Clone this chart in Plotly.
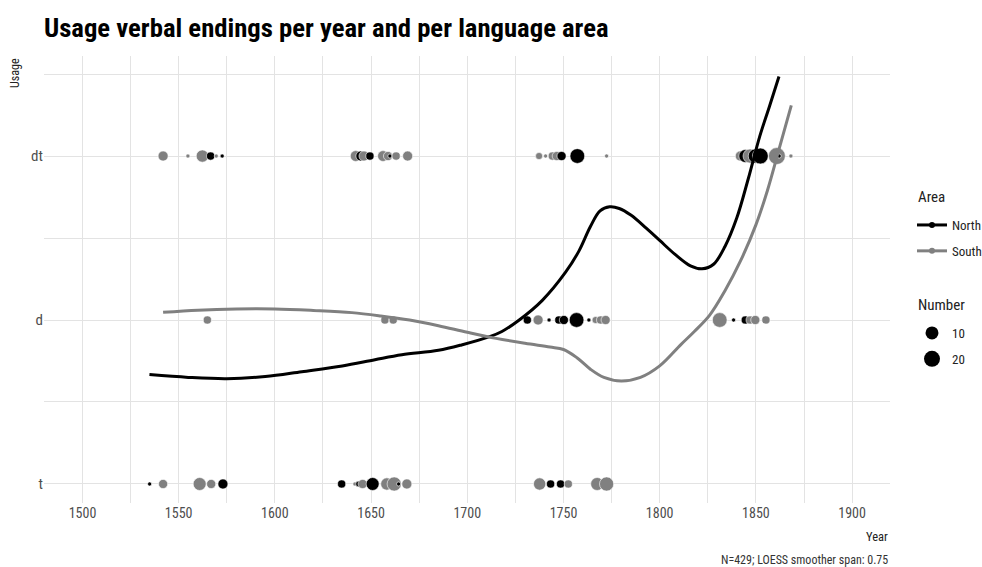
import numpy as np
import plotly.graph_objects as go

# ---- data ----
usage_levels = ["t", "d", "dt"]
year_ticks = [1500, 1550, 1600, 1650, 1700, 1750, 1800, 1850, 1900]

pt_year = [1541.9, 1554.8, 1562.3, 1566.6, 1569.5, 1572.6, 1642.0, 1644.7, 1646.3, 1649.4,
           1656.2, 1658.8, 1659.8, 1663.0, 1669.0, 1737.3, 1740.7, 1744.2, 1746.5, 1749.0,
           1757.2, 1772.4, 1841.9, 1844.5, 1847.0, 1849.7, 1852.3, 1860.9, 1862.1, 1868.2,
           1564.9, 1657.2, 1661.5, 1731.2, 1736.8, 1742.5, 1747.6, 1750.2, 1756.8, 1763.2,
           1766.7, 1769.3, 1771.9, 1831.2, 1838.4, 1844.5, 1847.0, 1849.7, 1855.2,
           1534.9, 1541.9, 1560.9, 1566.9, 1573.0, 1634.7, 1641.6, 1643.5, 1645.6, 1650.8,
           1658.2, 1662.0, 1664.3, 1668.6, 1737.6, 1743.3, 1748.5, 1752.5, 1767.5, 1772.4]
pt_usage = ["dt"] * 30 + ["d"] * 19 + ["t"] * 20
pt_area = ["S", "S", "S", "N", "S", "N", "S", "N", "S", "N",
           "S", "S", "N", "S", "S", "S", "S", "S", "S", "N",
           "N", "S", "S", "N", "S", "N", "N", "S", "N", "S",
           "S", "S", "S", "N", "S", "N", "N", "N", "N", "N",
           "S", "S", "S", "S", "N", "N", "S", "S", "S",
           "N", "S", "S", "S", "N", "N", "S", "N", "S", "N",
           "S", "S", "N", "S", "S", "N", "N", "S", "S", "S"]
pt_number = [6, 1, 9, 4, 1, 1, 7, 6, 6, 4,
             7, 5, 1, 4, 6, 3, 1, 4, 5, 5,
             13, 1, 6, 10, 12, 12, 15, 17, 1, 1,
             4, 4, 4, 4, 6, 1, 4, 5, 13, 1,
             3, 4, 5, 13, 1, 4, 4, 5, 4,
             1, 5, 10, 5, 6, 4, 1, 2, 5, 10,
             9, 12, 1, 6, 9, 4, 4, 4, 10, 12]

north_year = [1534.8, 1555, 1575, 1595, 1614, 1635, 1652, 1666, 1685, 1697, 1712, 1718,
              1727, 1739, 1751, 1758, 1764, 1769, 1774, 1779, 1785, 1793, 1800, 1808,
              1816, 1822, 1828, 1834, 1840, 1846, 1852, 1857, 1862]
north_fit = [1.667, 1.650, 1.642, 1.655, 1.685, 1.72, 1.758, 1.788, 1.815, 1.848, 1.900, 1.93,
             2.0, 2.12, 2.29, 2.42, 2.57, 2.665, 2.69, 2.68, 2.64, 2.56, 2.485, 2.40,
             2.33, 2.312, 2.34, 2.45, 2.62, 2.86, 3.12, 3.30, 3.485]

south_year = [1541.9, 1560, 1580, 1600, 1620, 1640, 1655, 1670, 1685, 1700, 1715, 1730,
              1743, 1750, 1757, 1764, 1771, 1780, 1790, 1800, 1811, 1818, 1826,
              1834, 1842, 1850, 1856, 1862, 1868.4]
south_fit = [2.047, 2.06, 2.067, 2.067, 2.058, 2.045, 2.025, 2.0, 1.965, 1.925, 1.888, 1.858,
             1.835, 1.82, 1.77, 1.70, 1.65, 1.628, 1.65, 1.72, 1.85, 1.93, 2.03,
             2.18, 2.36, 2.58, 2.79, 3.04, 3.309]

# ---- styling ----
FONT = "Roboto Condensed, Liberation Sans Narrow, Roboto, sans-serif"
COL = {"N": "#000000", "S": "#808080"}
GRID = "#e3e3e3"
ymap = {u: i + 1 for i, u in enumerate(usage_levels)}
PH = 447.0  # plot height in px
PW = 846.0  # plot width in px


def msize(n):
    return 4.1 * np.sqrt(n)


def py(pix):
    """paper y for pixel row"""
    return (503 - pix) / PH


def px(pix):
    return (pix - 44) / PW


fig = go.Figure()

fig.add_trace(go.Scatter(
    x=pt_year, y=[ymap[u] for u in pt_usage], mode="markers",
    marker=dict(size=[msize(n) for n in pt_number], color=[COL[a] for a in pt_area],
                line=dict(color="white", width=0.6), opacity=1),
    showlegend=False, hoverinfo="skip"))

fig.add_trace(go.Scatter(x=north_year, y=north_fit, mode="lines", line=dict(color="#000000", width=3, shape="spline"),
                         showlegend=False))
fig.add_trace(go.Scatter(x=south_year, y=south_fit, mode="lines", line=dict(color="#808080", width=3, shape="spline"),
                         showlegend=False))

# legend: Area
for name, a in [("North", "N"), ("South", "S")]:
    fig.add_trace(go.Scatter(x=[None], y=[None], mode="lines+markers", name=name, legendgroup=name,
                             line=dict(color=COL[a], width=3), marker=dict(color=COL[a], size=6),
                             legend="legend"))
# legend: Number
for n in [10, 20]:
    fig.add_trace(go.Scatter(x=[None], y=[None], mode="markers", name=str(n), legendgroup="n" + str(n),
                             marker=dict(color="black", size=msize(n)), legend="legend2"))

fig.update_layout(
    width=982, height=567,
    margin=dict(l=44, r=92, t=56, b=64, autoexpand=False),
    paper_bgcolor="white", plot_bgcolor="white",
    font=dict(family=FONT, color="#222222"),
    title=dict(text="<b>Usage verbal endings per year and per language area</b>",
               x=44 / 982, xanchor="left", y=1 - 28 / 567, yanchor="middle",
               font=dict(family=FONT, size=26.7, color="#000000")),
    xaxis=dict(range=[1480, 1919.7], tickvals=year_ticks, showgrid=True, gridcolor=GRID, gridwidth=1,
               zeroline=False, showline=False, ticks="",
               tickfont=dict(family=FONT, size=14, color="#4d4d4d"),
               minor=dict(tick0=1475, dtick=25, showgrid=True, gridcolor=GRID, gridwidth=1)),
    yaxis=dict(range=[0.884, 3.61], tickvals=[1, 2, 3], ticktext=usage_levels, showgrid=True,
               gridcolor=GRID, gridwidth=1, zeroline=False, showline=False, ticks="",
               tickfont=dict(family=FONT, size=15, color="#4d4d4d"),
               minor=dict(tick0=0.5, dtick=0.5, showgrid=True, gridcolor=GRID, gridwidth=1)),
    legend=dict(x=1.026, xanchor="left", y=py(210), yanchor="top",
                font=dict(size=13), bgcolor="rgba(0,0,0,0)", tracegroupgap=6),
    legend2=dict(x=1.026, xanchor="left", y=py(318), yanchor="top",
                 font=dict(size=13), bgcolor="rgba(0,0,0,0)", itemsizing="trace", tracegroupgap=6),
    annotations=[
        dict(text="Usage", textangle=-90, xref="paper", yref="paper", x=px(15), y=1,
             xanchor="center", yanchor="top", showarrow=False, font=dict(family=FONT, size=12, color="#222222")),
        dict(text="Year", xref="paper", yref="paper", x=1, y=py(536), xanchor="right", yanchor="middle",
             showarrow=False, font=dict(family=FONT, size=12.5, color="#222222")),
        dict(text="N=429; LOESS smoother span: 0.75", xref="paper", yref="paper", x=1, y=py(560),
             xanchor="right", yanchor="middle", showarrow=False, font=dict(family=FONT, size=12, color="#333333")),
        dict(text="Area", xref="paper", yref="paper", x=px(916), y=py(197), xanchor="left", yanchor="middle",
             showarrow=False, font=dict(family=FONT, size=15, color="#222222")),
        dict(text="Number", xref="paper", yref="paper", x=px(916), y=py(305), xanchor="left", yanchor="middle",
             showarrow=False, font=dict(family=FONT, size=15, color="#222222")),
    ],
)

fig.write_html("out.html")
